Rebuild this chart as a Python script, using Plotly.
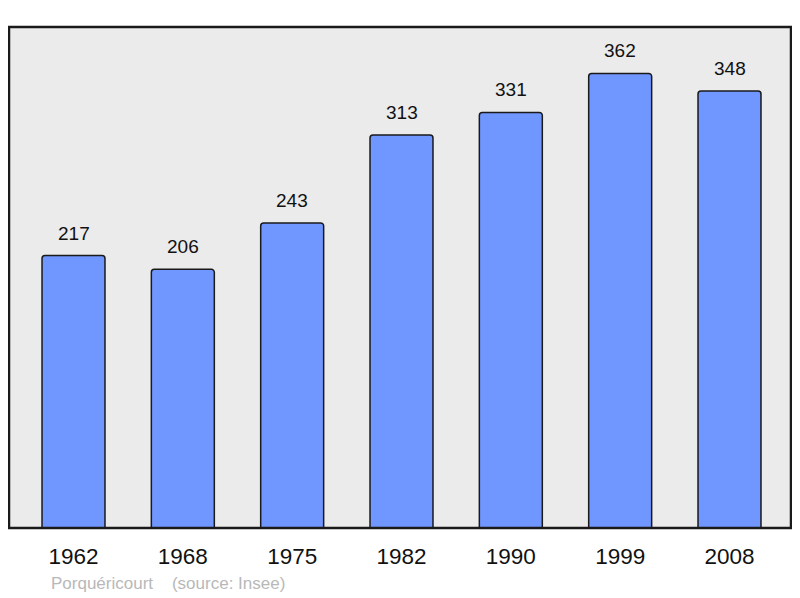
import plotly.graph_objects as go

years = ["1962", "1968", "1975", "1982", "1990", "1999", "2008"]
population = [217, 206, 243, 313, 331, 362, 348]
source_text = "Porquéricourt\u00a0\u00a0\u00a0\u00a0(source: Insee)"

xs = list(range(len(years)))

fig = go.Figure()
fig.add_trace(go.Bar(
    x=xs, y=population, width=0.576,
    marker=dict(color="#7096ff", line=dict(color="#1a1a1a", width=1.5), cornerradius=3),
    hoverinfo="skip",
))

for x, v in zip(xs, population):
    fig.add_annotation(x=x, y=v, text=str(v), showarrow=False, yanchor="bottom",
                       yshift=10, font=dict(size=19, color="#111111", family="Liberation Sans, Arial"))

fig.add_annotation(xref="paper", yref="paper", x=0.051, y=-0.11, xanchor="left", yanchor="middle",
                   text=source_text, showarrow=False,
                   font=dict(size=17, color="#b8b8b8", family="Liberation Sans, Arial"))

fig.add_shape(type="rect", xref="paper", yref="paper", x0=0, x1=1, y0=0, y1=1,
              line=dict(color="#1a1a1a", width=2.5), layer="above")

fig.update_layout(
    width=792, height=590,
    margin=dict(l=1, r=9, t=19, b=70),
    plot_bgcolor="#ebebeb", paper_bgcolor="white",
    showlegend=False,
    font=dict(family="Liberation Sans, Arial", color="#111111"),
    xaxis=dict(range=[-0.59, 6.5625], tickmode="array", tickvals=xs, ticktext=years,
               showgrid=False, zeroline=False, ticks="", tickfont=dict(size=22.5),
               ticklabelstandoff=12, fixedrange=True),
    yaxis=dict(range=[0, 399], showgrid=False, zeroline=False, showticklabels=False, fixedrange=True),
)
fig.write_html("out.html")
